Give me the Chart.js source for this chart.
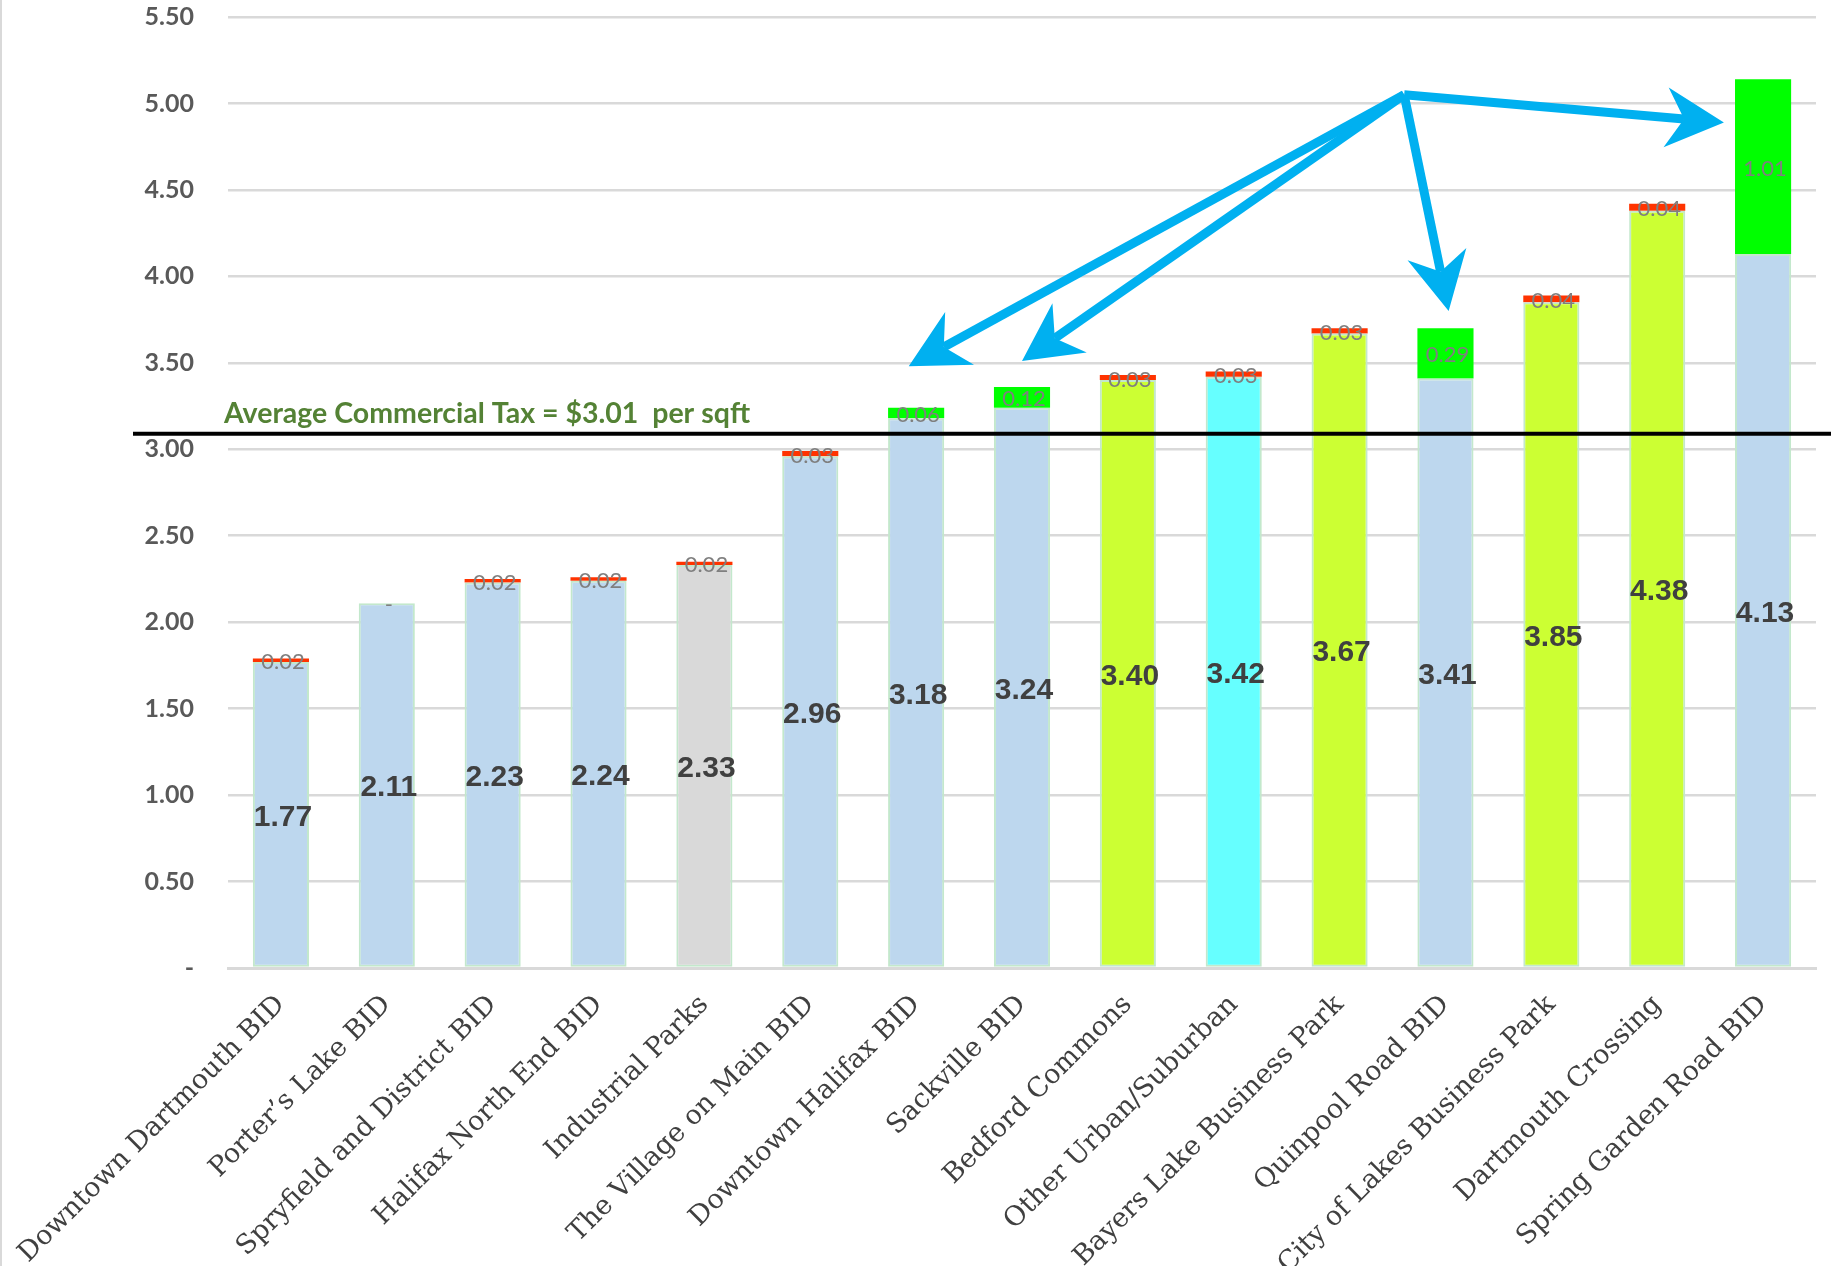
<!DOCTYPE html>
<html>
<head>
<meta charset="utf-8">
<title>Commercial tax per sqft</title>
<script src="https://cdn.jsdelivr.net/npm/chart.js@4.4.1/dist/chart.umd.min.js"></script>
<style>
  html, body { margin: 0; padding: 0; background: #fff; }
  #wrap { position: relative; width: 1831px; height: 1266px; }
</style>
</head>
<body>
<div id="wrap"><canvas id="chartTax"></canvas></div>
<script>
// Data
const areas = [
  'Downtown Dartmouth BID', 'Porter\u2019s Lake BID', 'Spryfield and District BID',
  'Halifax North End BID', 'Industrial Parks', 'The Village on Main BID',
  'Downtown Halifax BID', 'Sackville BID', 'Bedford Commons', 'Other Urban/Suburban',
  'Bayers Lake Business Park', 'Quinpool Road BID', 'City of Lakes Business Park',
  'Dartmouth Crossing', 'Spring Garden Road BID'
];
const baseTax = [1.77, 2.11, 2.23, 2.24, 2.33, 2.96, 3.18, 3.24, 3.40, 3.42, 3.67, 3.41, 3.85, 4.38, 4.13];
const extraTax = [0.02, 0, 0.02, 0.02, 0.02, 0.03, 0.06, 0.12, 0.03, 0.03, 0.03, 0.29, 0.04, 0.04, 1.01];
const areaGroup = ['bid', 'bid', 'bid', 'bid', 'industrial', 'bid', 'bid', 'bid', 'park', 'urban', 'park', 'bid', 'park', 'park', 'bid'];
const extraKind = ['other', 'other', 'other', 'other', 'other', 'other', 'levy', 'levy', 'other', 'other', 'other', 'levy', 'other', 'other', 'levy'];
const yTicks = [0, 0.5, 1, 1.5, 2, 2.5, 3, 3.5, 4, 4.5, 5, 5.5];
const avgLineValue = 3.09;
const avgLabel = 'Average Commercial Tax = $3.01  per sqft';

// styles
const groupColor = { bid: '#BDD7EE', industrial: '#D9D9D9', park: '#CCFF33', urban: '#66FFFF' };
const kindColor = { levy: '#00FF00', other: '#FF3300' };
const arrowBlue = '#00B0F0';

// arrows, in (category index, value) space
const arrowFrom = { x: 10.61, y: 5.05 };
const arrowTo = [
  { x: 5.93, y: 3.48 },
  { x: 7.00, y: 3.51 },
  { x: 11.03, y: 3.80 },
  { x: 13.63, y: 4.89 }
];

const valueLabels = {
  id: 'valueLabels',
  afterDatasetsDraw(chart) {
    const ctx = chart.ctx;
    ctx.save();
    ctx.textAlign = 'center';
    ctx.textBaseline = 'middle';
    chart.getDatasetMeta(0).data.forEach((bar, i) => {
      ctx.font = 'bold 30px "Liberation Sans", Arial, sans-serif';
      ctx.fillStyle = '#404040';
      ctx.fillText(baseTax[i].toFixed(2), bar.x + 2, (bar.y + bar.base) / 2 + 3);
    });
    chart.getDatasetMeta(1).data.forEach((bar, i) => {
      ctx.font = '22px Lato, sans-serif';
      ctx.fillStyle = '#7F7F7F';
      const txt = extraTax[i] === 0 ? '-' : extraTax[i].toFixed(2);
      ctx.fillText(txt, bar.x + 2, (bar.y + bar.base) / 2 + 2);
    });
    ctx.restore();
  }
};

const overlay = {
  id: 'overlay',
  afterDraw(chart) {
    const ctx = chart.ctx;
    const xs = chart.scales.x, ys = chart.scales.y;
    const area = chart.chartArea;
    ctx.save();

    // left frame line
    ctx.fillStyle = '#D9D9D9';
    ctx.fillRect(0, 0, 2, chart.height);

    // average line + label
    const ay = ys.getPixelForValue(avgLineValue);
    ctx.strokeStyle = '#000';
    ctx.lineWidth = 4;
    ctx.beginPath();
    ctx.moveTo(area.left - 95, ay);
    ctx.lineTo(chart.width, ay);
    ctx.stroke();
    ctx.font = 'bold 28.5px Lato, sans-serif';
    ctx.fillStyle = '#548235';
    ctx.textAlign = 'left';
    ctx.textBaseline = 'alphabetic';
    ctx.fillText(avgLabel, area.left - 4, ay - 11);

    // arrows
    const ox = xs.getPixelForValue(arrowFrom.x), oy = ys.getPixelForValue(arrowFrom.y);
    ctx.strokeStyle = arrowBlue;
    ctx.fillStyle = arrowBlue;
    ctx.lineWidth = 9;
    arrowTo.forEach(t => {
      const tx = xs.getPixelForValue(t.x), ty = ys.getPixelForValue(t.y);
      const len = Math.hypot(tx - ox, ty - oy);
      const dx = (tx - ox) / len, dy = (ty - oy) / len;
      const px = -dy, py = dx;
      const L = 58, W = 30, N = 40;
      ctx.beginPath();
      ctx.moveTo(ox, oy);
      ctx.lineTo(tx - dx * N, ty - dy * N);
      ctx.stroke();
      ctx.beginPath();
      ctx.moveTo(tx, ty);
      ctx.lineTo(tx - dx * L + px * W, ty - dy * L + py * W);
      ctx.lineTo(tx - dx * N, ty - dy * N);
      ctx.lineTo(tx - dx * L - px * W, ty - dy * L - py * W);
      ctx.closePath();
      ctx.fill();
    });
    ctx.restore();
  }
};

new Chart(document.getElementById('chartTax'), {
  type: 'bar',
  data: {
    labels: areas,
    datasets: [
      {
        label: 'Commercial tax',
        data: baseTax,
        backgroundColor: areaGroup.map(g => groupColor[g]),
        borderColor: '#C3E8CC',
        borderWidth: 2,
        borderSkipped: false,
        barPercentage: 0.53,
        categoryPercentage: 1.0
      },
      {
        label: 'Additional levy',
        data: extraTax,
        backgroundColor: extraKind.map(k => kindColor[k]),
        borderWidth: 0,
        barPercentage: 0.53,
        categoryPercentage: 1.0
      }
    ]
  },
  options: {
    responsive: true,
    maintainAspectRatio: false,
    animation: false,
    devicePixelRatio: 1,
    layout: { padding: { top: 17, right: 15, left: 0, bottom: 0 } },
    plugins: { legend: { display: false }, tooltip: { enabled: false } },
    scales: {
      x: {
        stacked: true,
        grid: { display: false },
        border: { color: '#D9D9D9', width: 3 },
        ticks: {
          font: { family: '"DejaVu Serif", serif', size: 27 },
          color: '#404040',
          minRotation: 45,
          maxRotation: 45,
          autoSkip: false,
          padding: 13
        },
        afterFit(scale) {
          scale.height = 298;
          scale.paddingLeft = 0; scale.paddingRight = 0;
          scale.paddingTop = 0; scale.paddingBottom = 0;
        }
      },
      y: {
        stacked: true,
        min: 0,
        max: 5.5,
        afterBuildTicks(scale) { scale.ticks = yTicks.map(v => ({ value: v })); },
        ticks: {
          callback: v => v === 0 ? '-' : Number(v).toFixed(2),
          font: { family: 'Lato, sans-serif', size: 25, weight: 'bold' },
          color: '#595959',
          padding: 34
        },
        grid: { color: '#D9D9D9', lineWidth: 2.5, drawTicks: false },
        border: { display: false },
        afterFit(scale) {
          scale.width = 228;
          scale.paddingTop = 0; scale.paddingBottom = 0;
        }
      }
    }
  },
  plugins: [valueLabels, overlay]
});
</script>
</body>
</html>
